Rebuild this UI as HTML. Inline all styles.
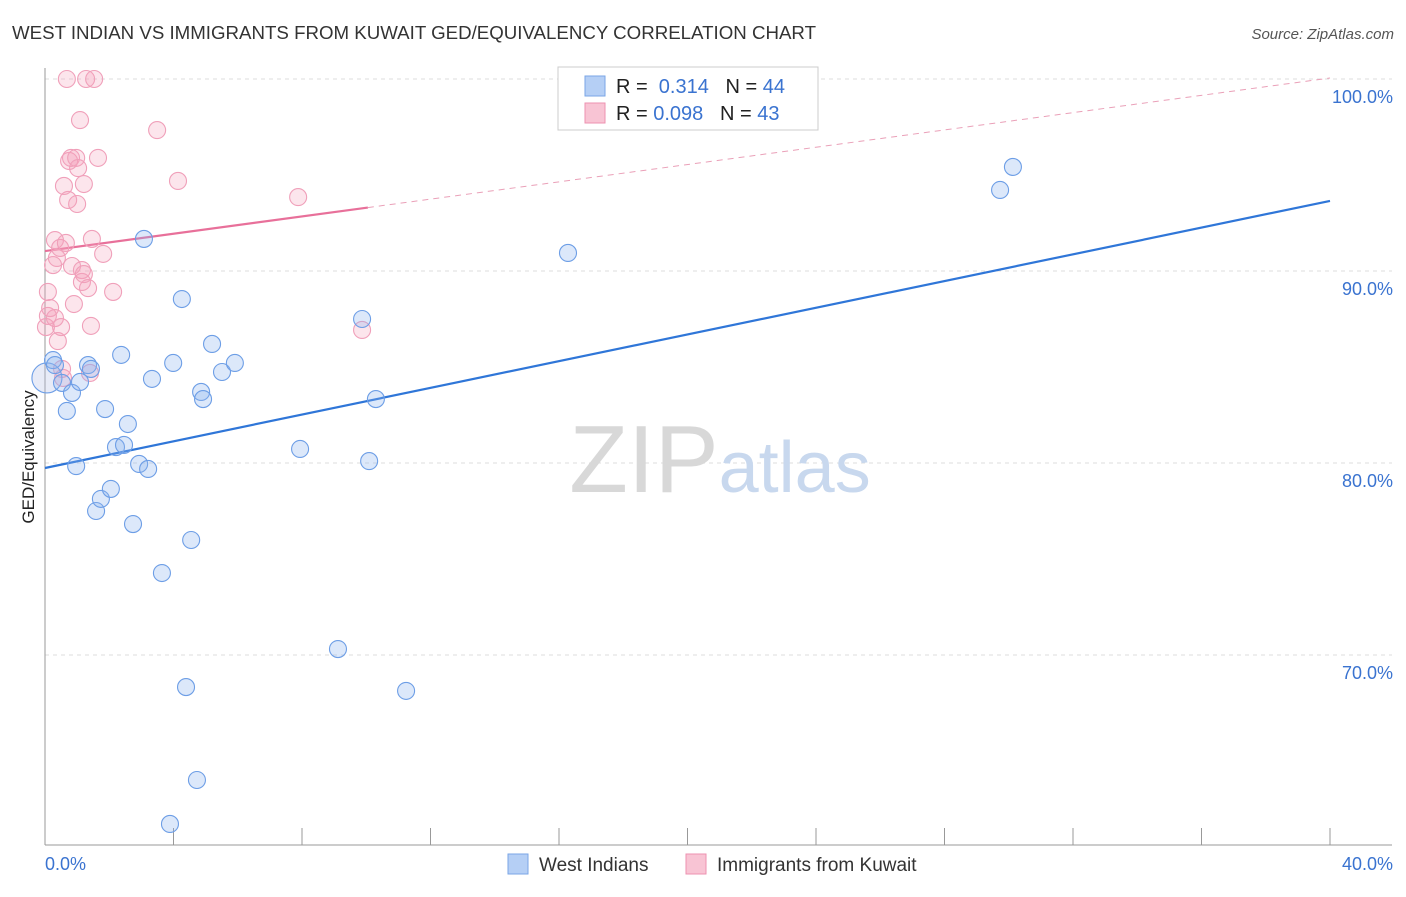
<!DOCTYPE html>
<html><head><meta charset="utf-8"><style>
body{margin:0;background:#fff;font-family:"Liberation Sans",sans-serif;}
svg text{font-family:"Liberation Sans",sans-serif;}
</style></head><body>
<svg id="chart" width="1406" height="892">
<text x="12" y="39" font-size="18.7" fill="#333">WEST INDIAN VS IMMIGRANTS FROM KUWAIT GED/EQUIVALENCY CORRELATION CHART</text>
<text x="1394" y="39" font-size="15" fill="#555" text-anchor="end" font-style="italic">Source: ZipAtlas.com</text>
<text x="34" y="457" font-size="17" fill="#222" text-anchor="middle" transform="rotate(-90 34 457)">GED/Equivalency</text>
<g id="grid"></g>
<text x="720" y="492" font-size="96" fill="#ddd" text-anchor="middle" font-family="Liberation Serif"><tspan fill="#d8d8d8">ZIP</tspan><tspan fill="#c8d8ee" font-family="Liberation Sans" font-size="72">atlas</tspan></text>
<g id="axes"></g>
<g id="lines"></g>
<g id="points"></g>
<g>
<rect x="558" y="67" width="260" height="63" fill="#fff" stroke="#ccc"/>
<rect x="585" y="76" width="20" height="20" fill="#b5cff5" stroke="#7aa6e6"/>
<text x="616" y="93" font-size="20" fill="#222">R = <tspan fill="#3a73d0">&#160;0.314</tspan><tspan fill="#222">&#160;&#160;&#160;N = </tspan><tspan fill="#3a73d0">44</tspan></text>
<rect x="585" y="103" width="20" height="20" fill="#f8c4d4" stroke="#ee92b0"/>
<text x="616" y="120" font-size="20" fill="#222">R = <tspan fill="#3a73d0">0.098</tspan><tspan fill="#222">&#160;&#160;&#160;N = </tspan><tspan fill="#3a73d0">43</tspan></text>
</g>
<g>
<rect x="508" y="854" width="20" height="20" fill="#b5cff5" stroke="#7aa6e6"/>
<text x="539" y="871" font-size="19" fill="#333">West Indians</text>
<rect x="686" y="854" width="20" height="20" fill="#f8c4d4" stroke="#ee92b0"/>
<text x="717" y="871" font-size="19" fill="#333">Immigrants from Kuwait</text>
</g>
</svg>
<script>
const blueX=[0.06,0.25,0.31,0.53,0.68,0.84,0.97,1.09,1.34,1.43,1.59,1.74,1.87,2.05,2.21,2.37,2.46,2.58,2.74,2.93,3.08,3.21,3.33,3.64,3.89,3.99,4.26,4.39,4.55,4.73,4.86,4.92,5.20,5.51,5.91,7.94,9.12,9.87,10.09,10.30,11.24,16.28,29.73,30.13];
const blueY=[84.43,85.36,85.10,84.17,82.71,83.65,79.84,84.22,85.10,84.90,77.50,78.13,82.81,78.65,80.83,85.63,80.94,82.03,76.82,79.95,91.67,79.69,84.38,74.27,61.20,85.21,88.54,68.33,75.99,63.49,83.70,83.33,86.20,84.74,85.21,80.73,70.31,87.50,80.10,83.33,68.13,90.94,94.22,95.42];
const pinkX=[0.03,0.09,0.09,0.16,0.25,0.31,0.31,0.37,0.40,0.47,0.50,0.53,0.56,0.59,0.65,0.68,0.72,0.75,0.81,0.84,0.90,0.97,1.00,1.03,1.09,1.15,1.15,1.21,1.21,1.28,1.34,1.40,1.43,1.46,1.53,1.65,1.81,2.12,3.49,4.14,7.88,9.87];
const pinkY=[87.08,88.91,87.66,88.07,90.31,87.55,91.61,90.68,86.35,91.20,87.08,84.90,84.43,94.43,91.46,100,93.70,95.73,95.89,90.26,88.28,95.89,93.49,95.36,97.86,90.05,89.43,89.84,94.53,100,89.11,84.69,87.14,91.67,100,95.89,90.89,88.91,97.34,94.69,93.85,86.93];
const blueTrend=[79.74,93.65];
const pinkTrend=[91.04,100.05];
const pinkSolidEnd=10.05;
const yTicks=[100,90,80,70];
const yTickLabels=["100.0%","90.0%","80.0%","70.0%"];
const xTicks=[0,4,8,12,16,20,24,28,32,36,40];
const NS="http://www.w3.org/2000/svg";
const xs=v=>45+v/40*1285;
const ys=v=>79+(100-v)*19.2;
function mk(t,a,p){const e=document.createElementNS(NS,t);for(const k in a)e.setAttribute(k,a[k]);p.appendChild(e);return e;}
const grid=document.getElementById('grid'),axes=document.getElementById('axes');
yTicks.forEach((t,i)=>{
 const l=mk('line',{x1:45,x2:1392,y1:ys(t),y2:ys(t),stroke:'#ddd','stroke-dasharray':'4,4'},grid);
 
 
 const tx=mk('text',{x:1393,y:ys(t)+24,'font-size':18,fill:'#3a73d0','text-anchor':'end'},axes);
 tx.textContent=yTickLabels[i];
 
 
});
const ax=mk('line',{x1:45,x2:45,y1:68,y2:845,stroke:'#999'},axes);


const bx=mk('line',{x1:45,x2:1392,y1:845,y2:845,stroke:'#999'},axes);


xTicks.forEach(t=>{
 const l=mk('line',{x1:xs(t),x2:xs(t),y1:828,y2:845,stroke:'#999'},axes);
 
 
});
const xl0=mk('text',{x:45,y:870,'font-size':18,fill:'#3a73d0'},axes);xl0.textContent='0.0%';


const xl1=mk('text',{x:1393,y:870,'font-size':18,fill:'#3a73d0','text-anchor':'end'},axes);xl1.textContent='40.0%';


const pts=document.getElementById('points');
pinkX.forEach((x,i)=>{
 const c=mk('circle',{cx:xs(x),cy:ys(pinkY[i]),r:8.5,fill:'rgba(244,160,188,0.28)',stroke:'#f0a0ba','stroke-width':1.1},pts);
 
 
});
blueX.forEach((x,i)=>{
 const c=mk('circle',{cx:xs(x),cy:ys(blueY[i]),r:i===0?15:8.5,fill:i===0?'rgba(180,190,230,0.3)':'rgba(140,180,240,0.3)',stroke:'#6d9ee6','stroke-width':1.1},pts);
 
 
});
const lines=document.getElementById('lines');
const pt=v=>pinkTrend[0]+(pinkTrend[1]-pinkTrend[0])*v/40;
const bl=mk('line',{x1:xs(0),y1:ys(blueTrend[0]),x2:xs(40),y2:ys(blueTrend[1]),stroke:'#2f76d8','stroke-width':2.2},lines);


const pl=mk('line',{x1:xs(0),y1:ys(pt(0)),x2:xs(pinkSolidEnd),y2:ys(pt(pinkSolidEnd)),stroke:'#e8709a','stroke-width':2.2},lines);


const pd=mk('line',{x1:xs(pinkSolidEnd),y1:ys(pt(pinkSolidEnd)),x2:xs(40),y2:ys(pt(40)),stroke:'#eaa0b8','stroke-width':1,'stroke-dasharray':'6,5'},lines);


</script>
</body></html>
